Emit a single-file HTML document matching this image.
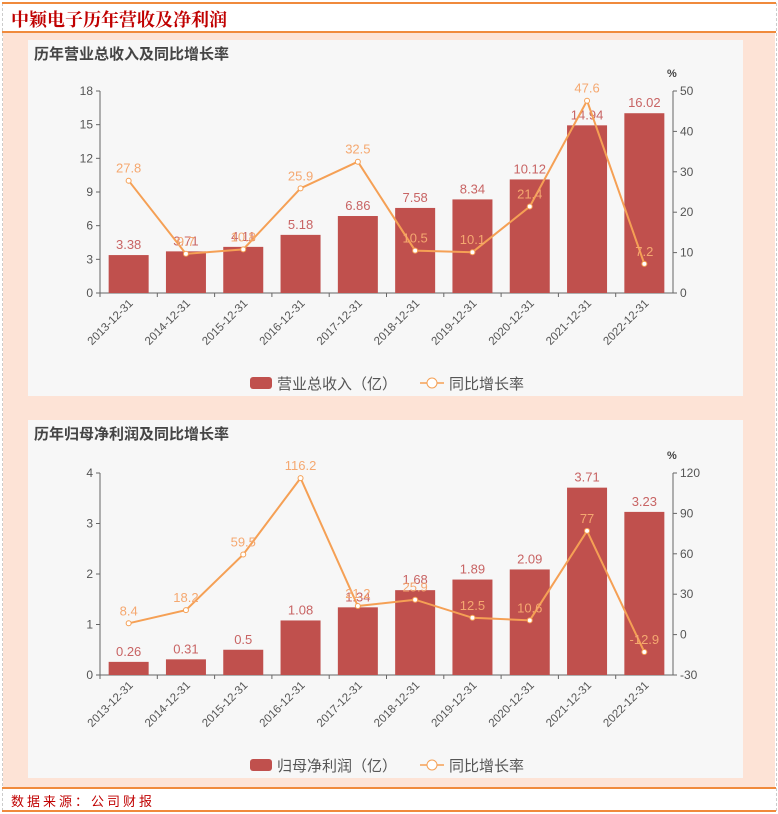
<!DOCTYPE html>
<html><head><meta charset="utf-8"><style>
body{margin:0;width:778px;height:814px;background:#fff;position:relative;overflow:hidden;font-family:"Liberation Sans","Noto Sans CJK SC",sans-serif}
</style></head><body>
<div style="position:absolute;left:2px;top:3px;width:773px;height:808px;border-left:1px dashed #ccc;border-right:1px dashed #ccc"></div>
<div style="position:absolute;left:2px;top:2px;width:774px;height:2px;background:#f08a3c"></div>
<div style="position:absolute;left:11px;top:6px;font-family:'Noto Serif CJK SC',serif;font-size:18px;color:#c00000;font-weight:bold">中颖电子历年营收及净利润</div>
<div style="position:absolute;left:2px;top:31px;width:774px;height:2px;background:#f08a3c"></div>
<div style="position:absolute;left:3px;top:33px;width:772px;height:754px;background:#fde3d6"></div>
<div style="position:absolute;left:2px;top:787px;width:774px;height:2px;background:#f08a3c"></div>
<div style="position:absolute;left:11px;top:791px;font-size:13px;color:#c00000;letter-spacing:3px">数据来源：公司财报</div>
<div style="position:absolute;left:2px;top:810px;width:774px;height:2px;background:#f08a3c"></div>
<svg id="svg" width="778" height="814" style="position:absolute;left:0;top:0"></svg>
<script>
const categories=["2013-12-31","2014-12-31","2015-12-31","2016-12-31","2017-12-31","2018-12-31","2019-12-31","2020-12-31","2021-12-31","2022-12-31"];
const revenue=[3.38,3.71,4.11,5.18,6.86,7.58,8.34,10.12,14.94,16.02];
const revenueGrowth=[27.8,9.7,10.8,25.9,32.5,10.5,10.1,21.4,47.6,7.2];
const revLeftTicks=[0,3,6,9,12,15,18];
const revRightTicks=[0,10,20,30,40,50];
const profit=[0.26,0.31,0.5,1.08,1.34,1.68,1.89,2.09,3.71,3.23];
const profitGrowth=[8.4,18.2,59.5,116.2,21.2,25.9,12.5,10.6,77,-12.9];
const profLeftTicks=[0,1,2,3,4];
const profRightTicks=[-30,0,30,60,90,120];
const NS="http://www.w3.org/2000/svg";
const svg=document.getElementById('svg');
function mk(tag,attrs,parent){const e=document.createElementNS(NS,tag);for(const k in attrs)e.setAttribute(k,attrs[k]);(parent||svg).appendChild(e);return e;}
function txt(s,attrs,parent){const e=mk('text',attrs,parent);e.textContent=s;return e;}
function chart(o){
  const g=mk('g',{});
  
  
  const p=mk('rect',{x:28,y:o.py,width:715,height:o.ph,fill:'#f7f7f7'},g);
  
  
  const t=txt(o.title,{x:34,y:o.py+19,'font-size':15,'font-weight':'bold',fill:'#444'},g);
  
  
  const L=100,R=673,T=o.top,B=o.bot,bw=(R-L)/categories.length;
  const yl=v=>B-(v-o.lmin)/(o.lmax-o.lmin)*(B-T);
  const yr=v=>B-(v-o.rmin)/(o.rmax-o.rmin)*(B-T);
  const xc=i=>L+bw*(i+0.5);
  mk('line',{x1:L,y1:T,x2:L,y2:B,stroke:'#666'},g);
  mk('line',{x1:R,y1:T,x2:R,y2:B,stroke:'#666'},g);
  mk('line',{x1:L,y1:B,x2:R,y2:B,stroke:'#666'},g);
  o.lt.forEach(v=>{mk('line',{x1:L-4,y1:yl(v),x2:L,y2:yl(v),stroke:'#666'},g);
    const e=txt(v,{x:L-7,y:yl(v)+4,'font-size':12,fill:'#555','text-anchor':'end'},g);
    });
  o.rt.forEach(v=>{mk('line',{x1:R,y1:yr(v),x2:R+4,y2:yr(v),stroke:'#666'},g);
    const e=txt(v,{x:R+7,y:yr(v)+4,'font-size':12,fill:'#555'},g);
    });
  txt('%',{x:R-6,y:T-14,'font-size':11,fill:'#444','font-weight':'bold'},g);
  categories.forEach((c,i)=>{
    mk('line',{x1:L+bw*i,y1:B,x2:L+bw*i,y2:B+4,stroke:'#666'},g);
    const e=txt(c,{x:xc(i)+5,y:B+11,'font-size':11.5,fill:'#555','text-anchor':'end',transform:`rotate(-45 ${xc(i)+5} ${B+11})`},g);
    
  });
  o.bars.forEach((v,i)=>{
    const b=mk('rect',{x:xc(i)-20,y:yl(v),width:40,height:B-yl(v),fill:'#c0504d'},g);
    
    
    txt(v,{x:xc(i),y:yl(v)-6,'font-size':13,fill:'#c86464','text-anchor':'middle'},g);
  });
  const pts=o.line.map((v,i)=>xc(i)+','+yr(v)).join(' ');
  const pl=mk('polyline',{points:pts,fill:'none',stroke:'#f5a055','stroke-width':2},g);
  
  
  o.line.forEach((v,i)=>{
    const c=mk('circle',{cx:xc(i),cy:yr(v),r:2.5,fill:'#fff',stroke:'#f5a055'},g);
    
    
    txt(v,{x:xc(i),y:yr(v)-8,'font-size':13,fill:'#f5a870','text-anchor':'middle'},g);
  });
  const ly=o.ly;
  const lr=mk('rect',{x:o.lx,y:ly-6,width:22,height:12,rx:3,fill:'#c0504d'},g);
  
  const lt=txt(o.barLabel,{x:o.lx+27,y:ly+6,'font-size':15,fill:'#555'},g);
  
  const lx2=o.lx+170;
  mk('line',{x1:lx2,y1:ly,x2:lx2+24,y2:ly,stroke:'#f5a055','stroke-width':1.5},g);
  mk('circle',{cx:lx2+12,cy:ly,r:5,fill:'#fff',stroke:'#f5a055'},g);
  const l2=txt('同比增长率',{x:lx2+29,y:ly+6,'font-size':15,fill:'#555'},g);
  
}
chart({name:'revenue-chart',title:'历年营业总收入及同比增长率',py:40,ph:356,top:91,bot:293,lmin:0,lmax:18,rmin:0,rmax:50,lt:revLeftTicks,rt:revRightTicks,bars:revenue,line:revenueGrowth,lx:250,ly:383,barLabel:'营业总收入（亿）'});
chart({name:'profit-chart',title:'历年归母净利润及同比增长率',py:420,ph:358,top:473,bot:675,lmin:0,lmax:4,rmin:-30,rmax:120,lt:profLeftTicks,rt:profRightTicks,bars:profit,line:profitGrowth,lx:250,ly:765,barLabel:'归母净利润（亿）'});
</script>
</body></html>
